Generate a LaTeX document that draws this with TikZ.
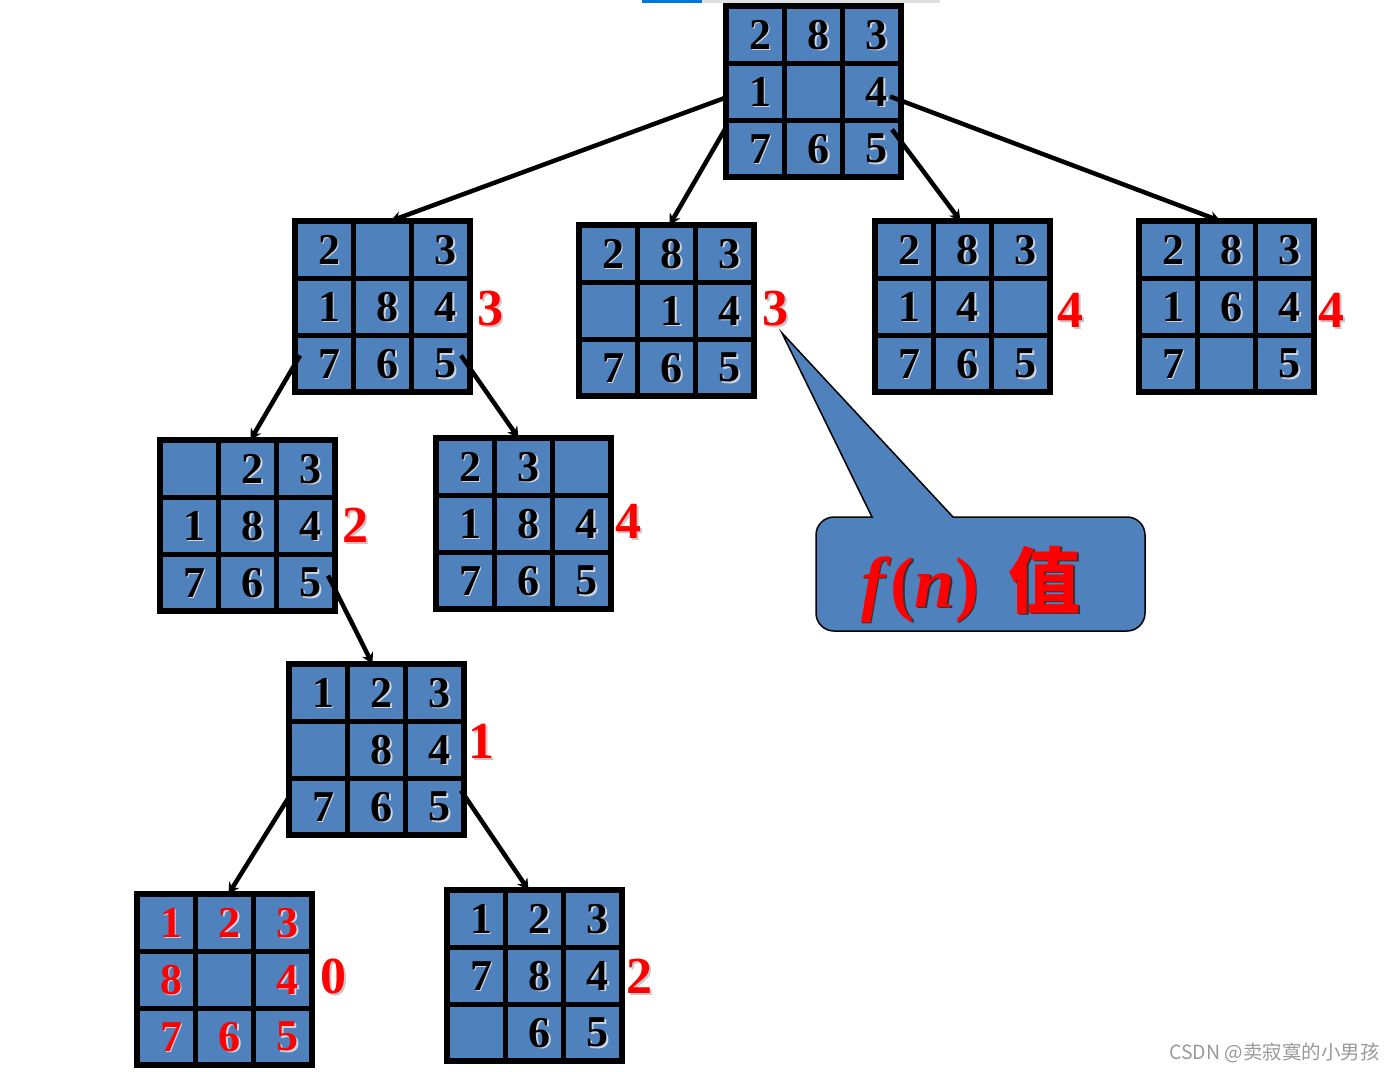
\documentclass[tikz,border=0pt]{standalone}
\usepackage{fontspec}
\setmainfont{Liberation Serif}
\newfontfamily\cjk{Noto Sans CJK SC}
\usetikzlibrary{arrows.meta,calc}
\definecolor{tile}{RGB}{79,129,189}
\definecolor{numred}{RGB}{255,0,0}
\definecolor{shade}{RGB}{205,212,225}
\newcommand\shd[3]{\makebox[0pt][l]{\hspace{#1}\raisebox{-#1}{\color{#2}#3}}#3}
\tikzset{
  boardbox/.style={draw=black, fill=tile, line width=6pt, minimum width=175pt, minimum height=171pt, inner sep=0pt, outer sep=0pt},
  gridline/.style={line width=5pt, black},
  digit/.style={font=\fontsize{44}{44}\selectfont\bfseries, inner sep=0pt},
  fval/.style={font=\fontsize{52}{52}\selectfont\bfseries, inner sep=0pt, text=numred},
  conn/.style={line width=4.5pt, -{Stealth[length=11pt,width=12pt]}},
  callout/.style={draw=black, line width=1.5pt, fill=tile},
}
\newcommand\board[5]{%
  \node[boardbox] (#1) at (#2+90.5,#3+88.5) {};
  \draw[gridline] (#2+61.33,#3+3) -- (#2+61.33,#3+174);
  \draw[gridline] (#2+119.67,#3+3) -- (#2+119.67,#3+174);
  \draw[gridline] (#2+3,#3+60) -- (#2+178,#3+60);
  \draw[gridline] (#2+3,#3+117) -- (#2+178,#3+117);
  \foreach \d [count=\i from 0] in {#4} {
    \pgfmathtruncatemacro\cc{mod(\i,3)}
    \pgfmathtruncatemacro\rr{div(\i,3)}
    \node[digit, text=#5] (#1-\i) at (#2+3+58.33*\cc+29.17+5, #3+3+57*\rr+28.5+1) {\shd{1.5pt}{shade}{\d}};
  }
}
\begin{document}
\begin{tikzpicture}[x=1pt,y=-1pt]
\useasboundingbox (0,0) rectangle (1394,1071);
\fill[fill={rgb,255:red,0;green,120;blue,215}] (642,0) rectangle (702,2.5);
\fill[black!12] (702,0) rectangle (940,2.5);

\board{root}{723}{3}{2,8,3,1,{},4,7,6,5}{black}
\board{A}{292}{218}{2,{},3,1,8,4,7,6,5}{black}
\board{B}{576}{222}{2,8,3,{},1,4,7,6,5}{black}
\board{C}{872}{218}{2,8,3,1,4,{},7,6,5}{black}
\board{D}{1136}{218}{2,8,3,1,6,4,7,{},5}{black}
\board{E}{157}{437}{{},2,3,1,8,4,7,6,5}{black}
\board{F}{433}{435}{2,3,{},1,8,4,7,6,5}{black}
\board{G}{286}{661}{1,2,3,{},8,4,7,6,5}{black}
\board{H}{134}{891}{1,2,3,8,{},4,7,6,5}{numred}
\board{I}{444}{887}{1,2,3,7,8,4,{},6,5}{black}

% f values
\foreach \n/\x/\y/\v in {A/490/310/3, B/775/310/3, C/1070/311/4, D/1331/311/4, E/355/526/2, F/628/522/4, G/481/742/1, H/333/977/0, I/639/977/2} {
  \node[fval] (\n-f) at (\x,\y) {\shd{2pt}{black!22}{\v}};
}

% connectors
\draw[conn] ($(root.west)+(0,6)$) -- ($(A.north)+(8,0)$);
\draw[conn] ($(root.west)+(0,36)$) -- ($(B.north)+(3,0)$);
\draw[conn] ($(root.east)+(-9,38)$) -- ($(C.north)+(-2,0)$);
\draw[conn] ($(root.east)+(-11,5)$) -- ($(D.north)+(-6,0)$);
\draw[conn] ($(A.west)+(5,49)$) -- ($(E.north)+(3,0)$);
\draw[conn] ($(A.east)+(-9,49)$) -- ($(F.north)+(-5,0)$);
\draw[conn] ($(E.east)+(-7,50)$) -- ($(G.north)+(-4,0)$);
\draw[conn] ($(G.west)+(-1,49)$) -- ($(H.north)+(4,0)$);
\draw[conn] ($(G.east)+(-3,41)$) -- ($(I.north)+(-6,0)$);

% callout
\draw[callout] (1000,517) [rounded corners=18pt] -- (1145,517) -- (1145,631) -- (816,631) -- (816,517) [sharp corners] -- (872,517) -- (782,333) -- (953,517) -- cycle;
\node[inner sep=0pt, text=numred, font=\fontsize{72}{72}\selectfont] (fn) at (971,585)
  {\shd{1.5pt}{black!80}{\textbf{\textit{f}}\textbf{(}\textbf{\textit{n}}\textbf{)}\hspace{30pt}{\cjk\bfseries 值}}};

% watermark
\node[anchor=east, inner sep=0pt, text=black!40, font=\cjk\fontsize{19.5}{19.5}\selectfont] (wm) at (1380,1053) {CSDN @卖寂寞的小男孩};
\end{tikzpicture}
\end{document}
